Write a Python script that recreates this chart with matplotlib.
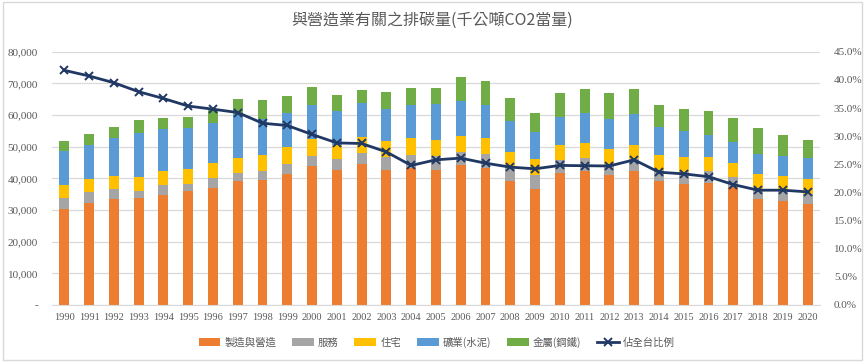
import matplotlib
matplotlib.use("Agg")
import matplotlib.pyplot as plt
from matplotlib.patches import Rectangle
from matplotlib.ticker import FuncFormatter, MultipleLocator
import numpy as np

plt.rcParams['font.family'] = ['Liberation Serif', 'Noto Sans CJK TC', 'DejaVu Sans']

years = [str(y) for y in range(1990, 2021)]

# cumulative tops (thousand tonnes CO2e)
top_manuf = [30.2, 32.1, 33.5, 33.8, 34.7, 36.0, 37.1, 39.2, 39.4, 41.5,
             44.0, 42.6, 44.6, 42.8, 43.4, 42.8, 44.2, 43.4, 39.2, 36.7,
             41.6, 42.3, 41.2, 42.2, 39.2, 38.2, 38.4, 37.2, 33.5, 32.9, 31.8]
top_service = [33.9, 35.6, 36.5, 36.1, 37.8, 38.3, 40.2, 41.7, 42.3, 44.5,
               47.2, 46.0, 48.1, 46.6, 47.4, 47.1, 48.4, 47.7, 43.5, 41.2,
               45.8, 46.4, 44.5, 46.2, 42.8, 42.1, 42.2, 40.5, 36.5, 36.3, 35.2]
top_resid = [37.9, 39.8, 40.9, 40.5, 42.2, 42.9, 44.7, 46.5, 47.4, 50.0,
             52.5, 50.7, 53.2, 51.7, 52.6, 52.2, 53.5, 52.8, 48.4, 46.2,
             50.6, 51.2, 49.4, 50.4, 47.4, 46.6, 46.6, 44.9, 41.4, 40.6, 39.8]
top_mining = [48.6, 50.5, 52.9, 54.4, 55.5, 55.8, 57.4, 60.3, 58.7, 60.8,
              63.1, 61.3, 63.9, 62.0, 63.3, 63.6, 64.4, 63.1, 58.0, 54.7,
              59.3, 60.6, 58.7, 60.3, 56.2, 54.9, 53.8, 51.5, 47.8, 47.2, 46.4]
top_metal = [51.8, 54.1, 56.1, 58.3, 59.2, 59.5, 61.9, 65.0, 64.7, 66.0,
             68.8, 66.2, 68.0, 67.4, 68.4, 68.6, 72.0, 70.8, 65.4, 60.8,
             67.1, 68.2, 67.1, 68.2, 63.2, 62.0, 61.4, 59.0, 55.8, 53.8, 52.2]
share_pct = [41.7, 40.7, 39.5, 37.9, 36.7, 35.35, 34.8, 34.2, 32.3, 31.9,
             30.3, 28.8, 28.7, 27.2, 24.8, 25.8, 26.1, 25.2, 24.5, 24.2,
             24.8, 24.75, 24.7, 25.8, 23.6, 23.3, 22.8, 21.4, 20.4, 20.4, 20.1]

series_names = ['製造與營造', '服務', '住宅', '礦業(水泥)', '金屬(鋼鐵)']
line_name = '佔全台比例'
title = '與營造業有關之排碳量(千公噸CO2當量)'

colors = ['#ED7D31', '#A5A5A5', '#FFC000', '#5B9BD5', '#70AD47']
line_color = '#203864'
text_color = '#595959'

tops = np.array([top_manuf, top_service, top_resid, top_mining, top_metal]) * 1000
segments = np.diff(np.vstack([np.zeros(len(years)), tops]), axis=0)

fig = plt.figure(figsize=(8.65, 3.62), dpi=100)
ax = fig.add_axes([0.060, 0.1575, 0.888, 0.6995])
x = np.arange(len(years))
bottom = np.zeros(len(years))
handles = []
for seg, c, name in zip(segments, colors, series_names):
    h = ax.bar(x, seg, 0.4, bottom=bottom, color=c, label=name, zorder=2)
    handles.append(h)
    bottom += seg

ax.set_ylim(0, 80000)
ax.set_xlim(-0.5, len(years) - 0.5)
ax.yaxis.set_major_locator(MultipleLocator(10000))
ax.yaxis.set_major_formatter(FuncFormatter(lambda v, p: '-' if v == 0 else f'{int(v):,}'))
ax.grid(axis='y', color='#D9D9D9', linewidth=0.9, zorder=0)
ax.set_axisbelow(True)
for s in ['top', 'right', 'left']:
    ax.spines[s].set_visible(False)
ax.spines['bottom'].set_color('#D9D9D9')
ax.set_xticks(x)
ax.set_xticklabels(years)
ax.tick_params(axis='both', length=0, colors=text_color, labelsize=8)
ax.tick_params(axis='x', labelsize=7.5, pad=6)
ax.tick_params(axis='y', pad=10)

ax2 = ax.twinx()
ax2.set_ylim(0, 45)
ax2.yaxis.set_major_locator(MultipleLocator(5))
ax2.yaxis.set_major_formatter(FuncFormatter(lambda v, p: f'{v:.1f}%'))
for s in ax2.spines.values():
    s.set_visible(False)
ax2.tick_params(axis='y', length=0, colors=text_color, labelsize=8, pad=10)
lh, = ax2.plot(x, share_pct, color=line_color, linewidth=2, marker='x',
               markersize=5.5, markeredgewidth=1.4, label=line_name, zorder=3)
handles.append(lh)

fig.text(0.5, 0.945, title, ha='center', va='center', fontsize=11.5,
         color=text_color, family=['Noto Sans CJK TC', 'DejaVu Sans'])

leg = fig.legend(handles, series_names + [line_name], loc='center',
                 bbox_to_anchor=(0.505, 0.055), ncol=6, frameon=False,
                 prop={'family': ['Noto Sans CJK TC', 'DejaVu Sans'], 'size': 7.5},
                 handlelength=2.1, handleheight=0.7, columnspacing=1.5,
                 handletextpad=0.4)
for t in leg.get_texts():
    t.set_color(text_color)

fig.patches.append(Rectangle((0.003, 0.006), 0.994, 0.988, transform=fig.transFigure,
                             fill=False, edgecolor='#D9D9D9', linewidth=1))

fig.savefig('out.png', dpi=100)
